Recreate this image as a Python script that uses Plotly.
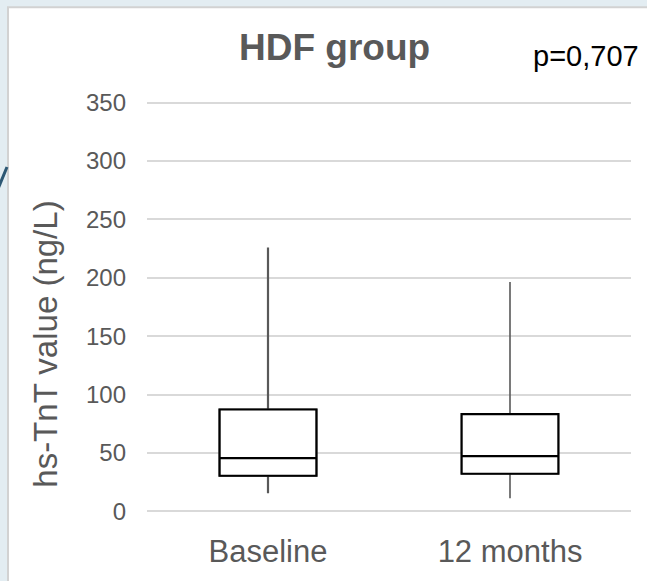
import plotly.graph_objects as go

# ---- data ----
categories = ["Baseline", "12 months"]
q1_vals = [30.6, 32.3]
median_vals = [45.6, 47.4]
q3_vals = [87.3, 83.3]
lower_vals = [15.6, 11.3]
upper_vals = [226.0, 196.4]
whisker_widths = [2.2, 1.6]
y_ticks = [0, 50, 100, 150, 200, 250, 300, 350]

title_text = "HDF group"
p_text = "p=0,707"
y_title = "hs-TnT value (ng/L)"

FONT = "Liberation Sans, Arial, sans-serif"
GREY = "#595959"

PX_PER_UNIT = 412 / 350
Y_MIN, Y_MAX = -3, 353

W, H = 647, 581
L, R = 147, 16
T = 103 - (Y_MAX - 350) * PX_PER_UNIT
B = H - (515 - Y_MIN * PX_PER_UNIT)
PW = W - L - R
PH = H - T - B


def px_x(px):
    return (px - L) / PW


def px_y(py):
    return (H - B - py) / PH


fig = go.Figure()

for i, cat in enumerate(categories):
    # whiskers (grey)
    fig.add_trace(go.Box(
        x=[cat], q1=[q1_vals[i]], median=[median_vals[i]], q3=[q3_vals[i]],
        lowerfence=[lower_vals[i]], upperfence=[upper_vals[i]],
        width=0.4, whiskerwidth=0, fillcolor="white",
        line=dict(color=GREY, width=whisker_widths[i]),
        showlegend=False, hoverinfo="skip", boxpoints=False,
    ))
    # box (black)
    fig.add_trace(go.Box(
        x=[cat], q1=[q1_vals[i]], median=[median_vals[i]], q3=[q3_vals[i]],
        lowerfence=[q1_vals[i]], upperfence=[q3_vals[i]],
        width=0.4, whiskerwidth=0, fillcolor="white",
        line=dict(color="black", width=2.2),
        showlegend=False, hoverinfo="skip", boxpoints=False,
    ))

fig.update_layout(
    width=W, height=H,
    margin=dict(l=L, r=R, t=T, b=B, pad=0),
    paper_bgcolor="#e3edf2",
    plot_bgcolor="rgba(0,0,0,0)",
    boxmode="overlay",
    font=dict(family=FONT, color=GREY),
    xaxis=dict(
        type="category", categoryorder="array", categoryarray=categories,
        range=[-0.5, 1.5], showgrid=False, zeroline=False, showline=False,
        ticks="", tickfont=dict(size=31, color=GREY, family=FONT),
        ticklabelstandoff=15,
    ),
    yaxis=dict(
        range=[Y_MIN, Y_MAX], tickvals=y_ticks,
        showgrid=True, gridcolor="#d9d9d9", gridwidth=1.6,
        zeroline=False, showline=False, ticks="",
        tickfont=dict(size=24, color=GREY, family=FONT),
        ticklabelstandoff=20,
    ),
    shapes=[
        dict(type="rect", xref="paper", yref="paper",
             x0=px_x(8), x1=px_x(660), y0=px_y(600), y1=px_y(7),
             fillcolor="white", line=dict(color="#d2d2d2", width=2),
             layer="below"),
        dict(type="line", xref="paper", yref="paper",
             x0=px_x(-2), y0=px_y(190), x1=px_x(7), y1=px_y(168),
             line=dict(color="#2d5874", width=3), layer="below"),
    ],
    annotations=[
        dict(text="<b>" + title_text + "</b>", xref="paper", yref="paper",
             x=px_x(334.5), y=px_y(48), xanchor="center", yanchor="middle",
             showarrow=False, font=dict(size=37, color=GREY, family=FONT)),
        dict(text=p_text, xref="paper", yref="paper",
             x=px_x(586), y=px_y(56), xanchor="center", yanchor="middle",
             showarrow=False, font=dict(size=29, color="black", family=FONT)),
        dict(text=y_title, xref="paper", yref="paper",
             x=px_x(46), y=px_y(347), xanchor="center", yanchor="middle",
             textangle=-90, showarrow=False,
             font=dict(size=33, color=GREY, family=FONT)),
    ],
)

fig.write_html(
    "out.html",
    config={"displayModeBar": False},
    post_script="document.body.style.margin='0';document.body.style.overflow='hidden';",
)
